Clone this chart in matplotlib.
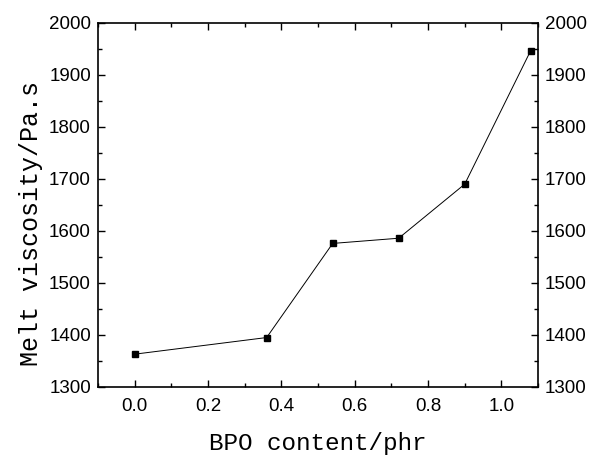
"""Melt viscosity versus BPO content."""

import matplotlib
matplotlib.use('Agg')
import matplotlib.pyplot as plt
from matplotlib.ticker import MultipleLocator

# Data
bpo_content = [0.0, 0.36, 0.54, 0.72, 0.90, 1.08]
melt_viscosity = [1363, 1395, 1576, 1586, 1690, 1947]

tick_font = ['Liberation Sans', 'DejaVu Sans']
label_font = ['Liberation Mono', 'DejaVu Sans Mono']

fig = plt.figure(figsize=(5.9, 4.59), dpi=100)
axes = fig.add_axes([0.166, 0.157, 0.746, 0.793])

axes.plot(bpo_content, melt_viscosity, '-', color='black', linewidth=0.7,
          marker='s', markersize=4, markerfacecolor='black',
          markeredgecolor='black')

axes.set_xlim(-0.1, 1.1)
axes.set_ylim(1300, 2000)
axes.xaxis.set_major_locator(MultipleLocator(0.2))
axes.xaxis.set_minor_locator(MultipleLocator(0.1))
axes.yaxis.set_major_locator(MultipleLocator(100))
axes.yaxis.set_minor_locator(MultipleLocator(50))

axes.tick_params(which='both', direction='in', top=True, right=True,
                 labelright=True, width=1.0)
axes.tick_params(which='major', length=5)
axes.tick_params(which='minor', length=3)
axes.xaxis.set_tick_params(which='major', pad=8, labelsize=13.5)
axes.yaxis.set_tick_params(which='major', pad=5, labelsize=13.5)
for label in axes.get_xticklabels() + axes.get_yticklabels(which='both'):
    label.set_family(tick_font)

for spine in axes.spines.values():
    spine.set_linewidth(1.2)

axes.set_xlabel('BPO content/phr', family=label_font, fontsize=17.5,
                labelpad=12)
axes.set_ylabel('Melt viscosity/Pa.s', family=label_font, fontsize=18,
                labelpad=6)
axes.yaxis.set_label_coords(-0.125, 0.448)

plt.savefig('out.png', dpi=100)
plt.close()
